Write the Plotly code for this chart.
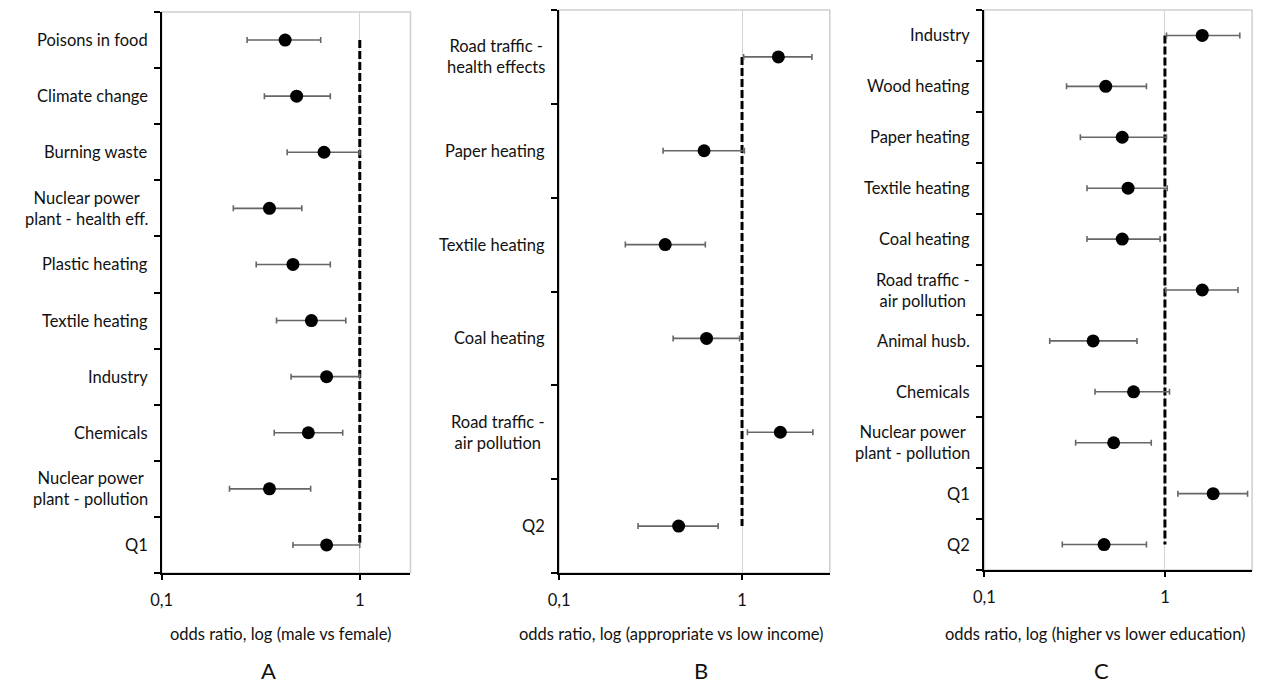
import plotly.graph_objects as go

# ---------------- data ----------------
A_labels = ["Poisons in food", "Climate change", "Burning waste",
            "Nuclear power<br>plant - health eff.", "Plastic heating",
            "Textile heating", "Industry", "Chemicals",
            "Nuclear power<br>plant - pollution", "Q1"]
A_or = [0.42, 0.48, 0.66, 0.35, 0.46, 0.57, 0.68, 0.55, 0.35, 0.68]
A_lo = [0.27, 0.33, 0.43, 0.23, 0.30, 0.38, 0.45, 0.37, 0.22, 0.46]
A_hi = [0.635, 0.71, 1.00, 0.51, 0.71, 0.85, 1.00, 0.82, 0.565, 1.00]

B_labels = ["Road traffic -<br>health effects", "Paper heating", "Textile heating",
            "Coal heating", "Road traffic -<br>air pollution", "Q2"]
B_or = [1.58, 0.62, 0.38, 0.64, 1.62, 0.45]
B_lo = [1.02, 0.37, 0.23, 0.42, 1.07, 0.27]
B_hi = [2.41, 1.03, 0.63, 0.97, 2.44, 0.74]

C_labels = ["Industry", "Wood heating", "Paper heating", "Textile heating",
            "Coal heating", "Road traffic -<br>air pollution", "Animal husb.",
            "Chemicals", "Nuclear power<br>plant - pollution", "Q1", "Q2"]
C_or = [1.61, 0.47, 0.58, 0.625, 0.58, 1.61, 0.40, 0.67, 0.52, 1.85, 0.46]
C_lo = [1.02, 0.285, 0.34, 0.37, 0.37, 1.01, 0.23, 0.41, 0.32, 1.18, 0.27]
C_hi = [2.60, 0.79, 1.02, 1.03, 0.94, 2.54, 0.70, 1.06, 0.84, 2.87, 0.79]

x_titles = ["odds ratio, log (male vs female)",
            "odds ratio, log (appropriate vs low income)",
            "odds ratio, log (higher vs lower education)"]
panel_letters = ["A", "B", "C"]
x_tickvals = [0.1, 1]
x_ticktext = ["0,1", "1"]

# ---------------- layout geometry ----------------
W, H = 1263, 684
FONT = "Lato"
panels = [
    dict(labels=A_labels, orv=A_or, lo=A_lo, hi=A_hi,
         xd=(152, 403), yd=(12, 573), xmax=0.256, title_x=272, letter_x=260),
    dict(labels=B_labels, orv=B_or, lo=B_lo, hi=B_hi,
         xd=(553, 826), yd=(10, 573), xmax=0.48, title_x=666, letter_x=696),
    dict(labels=C_labels, orv=C_or, lo=C_lo, hi=C_hi,
         xd=(982, 1252), yd=(10, 570), xmax=0.483, title_x=1094, letter_x=1100),
]

fig = go.Figure()
annotations = []
shapes = []

for i, p in enumerate(panels):
    k = "" if i == 0 else str(i + 1)
    xa, ya = "x" + k, "y" + k
    n = len(p["labels"])
    ypos = list(range(n))
    # dashed reference line at OR = 1
    fig.add_trace(go.Scatter(
        x=[1] * n, y=ypos, mode="lines", xaxis=xa, yaxis=ya,
        line=dict(color="black", width=3, dash="8px,3px"),
        showlegend=False, hoverinfo="skip"))
    # points with CI
    fig.add_trace(go.Scatter(
        x=p["orv"], y=ypos, mode="markers", xaxis=xa, yaxis=ya,
        marker=dict(color="black", size=13),
        error_x=dict(type="data", symmetric=False,
                     array=[h - o for h, o in zip(p["hi"], p["orv"])],
                     arrayminus=[o - l for o, l in zip(p["orv"], p["lo"])],
                     color="#666666", thickness=1.6, width=3),
        showlegend=False))

    x0, x1 = p["xd"]
    y0, y1 = p["yd"]
    fig.update_layout(**{
        "xaxis" + k: dict(
            domain=[x0 / W, x1 / W], anchor=ya, type="log",
            range=[-1, p["xmax"]], tickvals=x_tickvals, ticktext=x_ticktext,
            showgrid=True, gridcolor="#d4d4d4", gridwidth=1,
            showline=True, linecolor="black", linewidth=2,
            ticks="outside", ticklen=5, tickwidth=1.5, tickcolor="black",
            ticklabelstandoff=6,
            tickfont=dict(family=FONT, size=16.5, color="#111"),
            zeroline=False, fixedrange=True),
        "yaxis" + k: dict(
            domain=[1 - y1 / H, 1 - y0 / H], anchor=xa,
            range=[n - 0.5, -0.5],
            tickvals=[j - 0.5 for j in range(n + 1)],
            ticktext=[""] * (n + 1),
            showgrid=False, zeroline=False,
            showline=True, linecolor="black", linewidth=2,
            ticks="outside", ticklen=6, tickwidth=2, tickcolor="black",
            fixedrange=True),
    })
    # light grey frame
    shapes.append(dict(type="rect", xref=xa + " domain", yref=ya + " domain",
                       x0=0, x1=1, y0=0, y1=1, layer="below",
                       line=dict(color="#cfcfcf", width=1.5)))
    # category labels
    for j, lab in enumerate(p["labels"]):
        annotations.append(dict(
            x=0, xref=xa + " domain", y=j, yref=ya, text=lab,
            xanchor="right", yanchor="middle", align="center",
            xshift=-12, showarrow=False,
            font=dict(family=FONT, size=16.5, color="#111")))
    # x-axis title and panel letter
    annotations.append(dict(
        x=p["title_x"] / W, xref="paper", y=1 - 634 / H, yref="paper",
        text=x_titles[i], showarrow=False, xanchor="center", yanchor="middle",
        font=dict(family=FONT, size=16.5, color="#111")))
    annotations.append(dict(
        x=p["letter_x"] / W, xref="paper", y=1 - 670 / H, yref="paper",
        text=panel_letters[i], showarrow=False, xanchor="center", yanchor="middle",
        font=dict(family=FONT, size=22, color="#111")))

fig.update_layout(
    width=W, height=H, margin=dict(l=0, r=0, t=0, b=0),
    paper_bgcolor="white", plot_bgcolor="white",
    annotations=annotations, shapes=shapes, showlegend=False,
)

fig.write_html(
    "out.html",
    config={"displayModeBar": False},
    post_script="document.body.style.margin='0';"
                "document.body.style.padding='0';"
                "document.body.style.overflow='hidden';"
                "document.documentElement.style.overflow='hidden';",
)
